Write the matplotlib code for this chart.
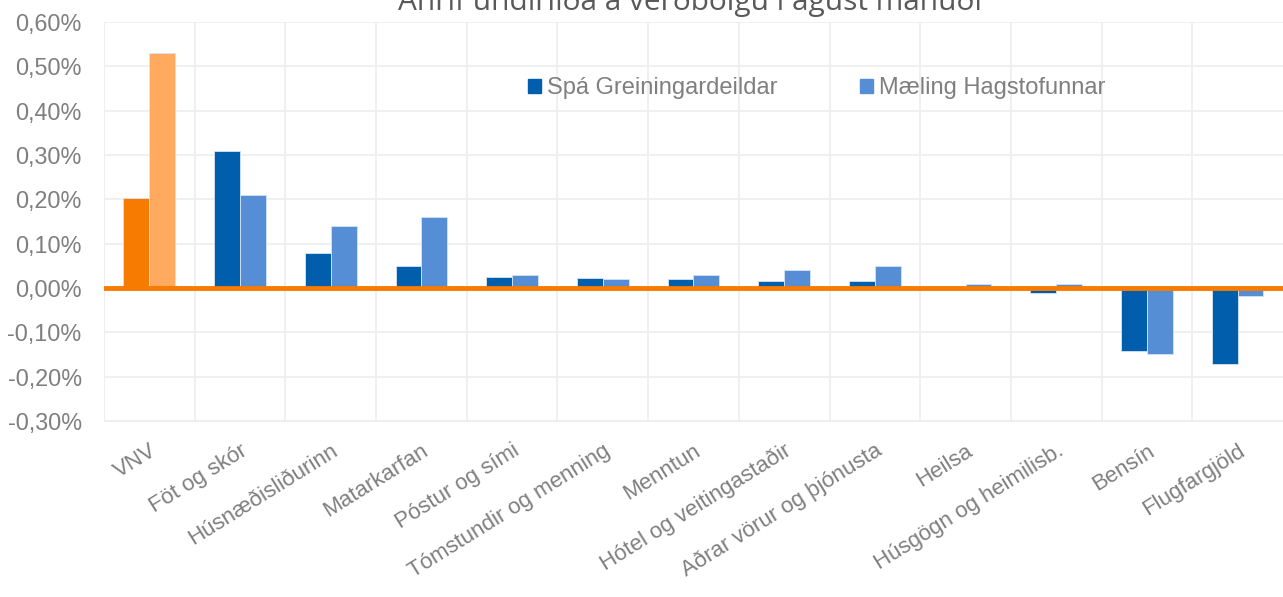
import numpy as np
import matplotlib.pyplot as plt
from matplotlib.ticker import FuncFormatter, MultipleLocator

# Gögn lesin af myndinni (prósentustig)
flokkar = ["VNV", "Föt og skór", "Húsnæðisliðurinn", "Matarkarfan", "Póstur og sími",
           "Tómstundir og menning", "Menntun", "Hótel og veitingastaðir",
           "Aðrar vörur og þjónusta", "Heilsa", "Húsgögn og heimilisb.", "Bensín",
           "Flugfargjöld"]
spa = [0.203, 0.308, 0.080, 0.050, 0.025, 0.022, 0.020, 0.015, 0.015, 0.0, -0.012, -0.143, -0.172]
maeling = [0.53, 0.21, 0.14, 0.16, 0.03, 0.02, 0.03, 0.04, 0.05, 0.01, 0.01, -0.15, -0.018]

dokkblar = "#005EAD"
ljosblar = "#558ED5"
appelsinugulur = "#F77B00"
ljosappels = "#FFAA5E"
grar = "#7F7F7F"

plt.rcParams['font.family'] = ['Liberation Sans', 'DejaVu Sans']

fig = plt.figure(figsize=(12.83, 5.97), dpi=100)
ax = fig.add_axes([0.081, 0.295, 0.919, 0.668])

x = np.arange(len(flokkar))
w = 0.285
litir1 = [appelsinugulur] + [dokkblar] * (len(flokkar) - 1)
litir2 = [ljosappels] + [ljosblar] * (len(flokkar) - 1)
ax.bar(x - w / 2, spa, w, color=litir1, edgecolor="#D6E3F3", linewidth=0.6, zorder=3)
ax.bar(x + w / 2, maeling, w, color=litir2, edgecolor="#D6E3F3", linewidth=0.6, zorder=3)
ax.axhline(0, color=appelsinugulur, linewidth=3.5, zorder=4)

ax.set_xlim(-0.5, len(flokkar) - 0.5)
ax.set_ylim(-0.3, 0.6)
ax.yaxis.set_major_locator(MultipleLocator(0.1))
ax.yaxis.set_major_formatter(FuncFormatter(lambda v, p: f"{v:.2f}%".replace(".", ",")))
ax.set_xticks(x)
ax.set_xticks(x[:-1] + 0.5, minor=True)
ax.set_xticklabels(flokkar, rotation=32, ha="right", rotation_mode="anchor",
                   fontsize=16, color=grar)
ax.tick_params(axis="y", labelsize=16.8, labelcolor=grar, length=0, pad=16)
ax.tick_params(axis="x", which="both", length=0, pad=14)
ax.grid(axis="y", color="#EEEEEE", linewidth=1.2, zorder=0)
ax.grid(axis="x", which="minor", color="#EEEEEE", linewidth=1.2, zorder=0)
for s in ["top", "right"]:
    ax.spines[s].set_visible(False)
ax.spines["left"].set_color("#EEEEEE")
ax.spines["bottom"].set_color("#EEEEEE")

# legend with dark blue / light blue squares
h1 = plt.Rectangle((0, 0), 1, 1, color=dokkblar)
h2 = plt.Rectangle((0, 0), 1, 1, color=ljosblar)
fig.legend([h1, h2], ["Spá Greiningardeildar", "Mæling Hagstofunnar"], loc="center",
           bbox_to_anchor=(817 / 1283, 1 - 88 / 597), ncol=2, frameon=False, fontsize=17,
           handlelength=0.55, handleheight=0.55, handletextpad=0.25, columnspacing=3.5,
           labelcolor=grar, borderpad=0)

fig.text(690 / 1283, 1 - 10 / 597, "Áhrif undirliða á verðbólgu í ágúst mánuði",
         ha="center", va="baseline", fontsize=21.5, color="#595959",
         family=["Open Sans", "DejaVu Sans"])

fig.savefig("out.png", dpi=100)
